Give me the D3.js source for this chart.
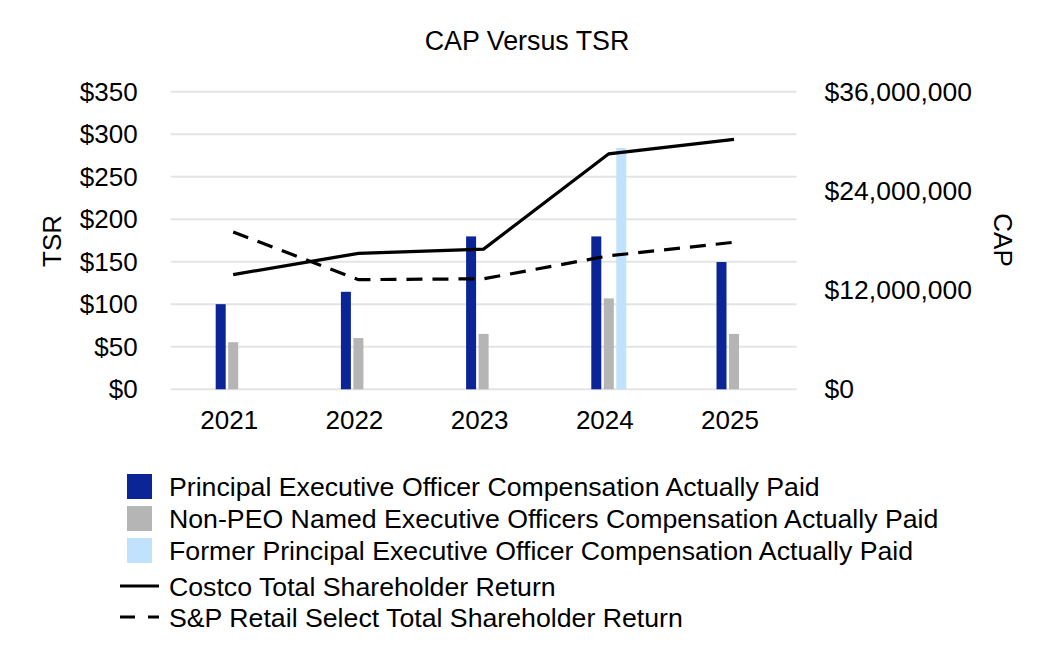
<!DOCTYPE html>
<html>
<head>
<meta charset="utf-8">
<script src="https://cdn.jsdelivr.net/npm/d3@7"></script>
<style>
  html, body { margin: 0; padding: 0; background: #fff; }
  svg { display: block; font-family: Arial, "Liberation Sans", sans-serif; }
</style>
</head>
<body>
<svg id="chart" width="1056" height="672"></svg>
<script>
// ---- data ----
const years = ["2021", "2022", "2023", "2024", "2025"];
const peoCAP = [10300000, 11800000, 18500000, 18500000, 15400000];
const nonPeoCAP = [5700000, 6200000, 6700000, 11000000, 6700000];
const formerPeoCAP = [null, null, null, 29200000, null];
const costcoTSR = [135, 160, 165, 277, 294];
const spRetailTSR = [185, 129, 130, 157, 173];
const tsrTicks = [0, 50, 100, 150, 200, 250, 300, 350];
const capTicks = [0, 12000000, 24000000, 36000000];
const seriesNames = [
  "Principal Executive Officer Compensation Actually Paid",
  "Non-PEO Named Executive Officers Compensation Actually Paid",
  "Former Principal Executive Officer Compensation Actually Paid"
];
const lineNames = ["Costco Total Shareholder Return", "S&P Retail Select Total Shareholder Return"];
const barColors = ["#0B2496", "#B5B5B5", "#C0E2FC"];

const svg = d3.select("#chart");
const pL = 170.6, pR = 796.6, pT = 91.8, pB = 389.3;

const x0 = d3.scaleBand().domain(years).range([pL, pR]).padding(0);
const x1 = d3.scaleBand().domain([0, 1, 2]).range([-17.5, 17.5]).paddingInner(0.2).paddingOuter(0);
const yL = d3.scaleLinear().domain([0, 350]).range([pB, pT]);
const yR = d3.scaleLinear().domain([0, 36000000]).range([pB, pT]);
const cx = d => x0(d) + x0.bandwidth() / 2;

// gridlines
svg.append("g").selectAll("line").data(tsrTicks).join("line")
  .attr("x1", pL).attr("x2", pR)
  .attr("y1", d => yL(d)).attr("y2", d => yL(d))
  .attr("stroke", "#E4E4E4").attr("stroke-width", 2);

// bars
const barSeries = [peoCAP, nonPeoCAP, formerPeoCAP];
barSeries.forEach((vals, si) => {
  svg.append("g").selectAll("rect")
    .data(years.map((y, i) => ({ y, v: vals[i] })).filter(d => d.v != null))
    .join("rect")
    .attr("x", d => cx(d.y) + x1(si))
    .attr("width", x1.bandwidth())
    .attr("y", d => yR(d.v))
    .attr("height", d => yR(0) - yR(d.v))
    .attr("fill", barColors[si]);
});

// lines
const line = d3.line().x((d, i) => cx(years[i])).y(d => yL(d));
svg.append("path").attr("d", line(costcoTSR))
  .attr("fill", "none").attr("stroke", "#000").attr("stroke-width", 3.2);
svg.append("path").attr("d", line(spRetailTSR))
  .attr("fill", "none").attr("stroke", "#000").attr("stroke-width", 3.2)
  .attr("stroke-dasharray", "16,10");

// axes
const fs = 26;
const axL = svg.append("g").attr("transform", `translate(${pL},0)`)
  .call(d3.axisLeft(yL).tickValues(tsrTicks).tickFormat(d => "$" + d).tickSize(0).tickPadding(33));
const axR = svg.append("g").attr("transform", `translate(${pR},0)`)
  .call(d3.axisRight(yR).tickValues(capTicks).tickFormat(d => "$" + d3.format(",")(d)).tickSize(0).tickPadding(28));
const axB = svg.append("g").attr("transform", `translate(0,${pB})`)
  .call(d3.axisBottom(x0).tickSize(0).tickPadding(21));
[axL, axR, axB].forEach(a => {
  a.select(".domain").remove();
  a.selectAll("text").attr("font-size", fs).attr("fill", "#000")
    .attr("font-family", "Arial, 'Liberation Sans', sans-serif");
});
axR.selectAll("text").attr("font-size", 26.5);
axB.selectAll("text").attr("dx", -4);

// title
svg.append("text").attr("x", 527).attr("y", 50).attr("text-anchor", "middle")
  .attr("font-size", 26.8).text("CAP Versus TSR");

// axis titles
svg.append("text").attr("transform", "translate(61,241) rotate(-90)")
  .attr("text-anchor", "middle").attr("font-size", fs).text("TSR");
svg.append("text").attr("transform", "translate(994,240) rotate(90)")
  .attr("text-anchor", "middle").attr("font-size", fs).text("CAP");

// legend
const lfs = 26.7;
const lg = svg.append("g");
seriesNames.forEach((n, i) => {
  const yy = 474 + i * 32;
  lg.append("rect").attr("x", 127).attr("y", yy).attr("width", 25).attr("height", 25).attr("fill", barColors[i]);
  lg.append("text").attr("x", 169).attr("y", yy + 22).attr("font-size", lfs).text(n);
});
lineNames.forEach((n, i) => {
  const yy = 586 + i * 31;
  lg.append("line").attr("x1", 120).attr("x2", 159).attr("y1", yy).attr("y2", yy)
    .attr("stroke", "#000").attr("stroke-width", 3.2)
    .attr("stroke-dasharray", i === 1 ? "15,13" : null);
  lg.append("text").attr("x", 169).attr("y", yy + 10).attr("font-size", lfs).text(n);
});
</script>
</body>
</html>
